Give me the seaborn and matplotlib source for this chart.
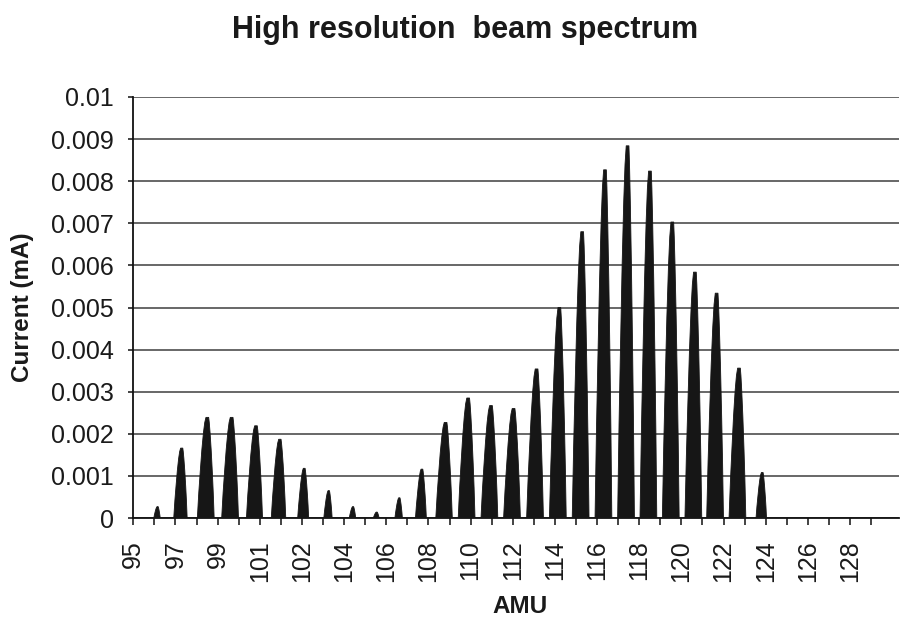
import numpy as np
import pandas as pd
import matplotlib
matplotlib.use("Agg")
import matplotlib.pyplot as plt
import seaborn as sns

# Peak centres (AMU, on the calibrated axis) and peak beam currents (mA)
peak_amu = [96.12, 97.23, 98.41, 99.53, 100.65, 101.75, 102.87, 104.00, 105.12,
            106.21, 107.25, 108.29, 109.38, 110.42, 111.47, 112.51, 113.57, 114.62,
            115.67, 116.72, 117.76, 118.79, 119.82, 120.86, 121.86, 122.89, 123.96]
peak_current = [0.00027, 0.00166, 0.00239, 0.00239, 0.00219, 0.00187, 0.00118, 0.00065,
                0.00027, 0.00014, 0.00048, 0.00116, 0.00227, 0.00285, 0.00267, 0.00260,
                0.00354, 0.00500, 0.00680, 0.00827, 0.00884, 0.00824, 0.00703, 0.00584,
                0.00534, 0.00356, 0.00108]

x_tick_labels = ["95", "97", "99", "101", "102", "104", "106", "108", "110", "112",
                 "114", "116", "118", "120", "122", "124", "126", "128"]
y_tick_values = [0, 0.001, 0.002, 0.003, 0.004, 0.005, 0.006, 0.007, 0.008, 0.009, 0.01]
y_tick_labels = ["0", "0.001", "0.002", "0.003", "0.004", "0.005", "0.006", "0.007",
                 "0.008", "0.009", "0.01"]

sns.set_theme(style="white")
plt.rcParams["font.family"] = ["Liberation Sans", "DejaVu Sans"]

INK = "#161616"
GRID = "#5c5c5c"

fig = plt.figure(figsize=(9, 6.18), dpi=100)
ax = fig.add_axes([133.3 / 900, 1 - 518 / 618, 765.7 / 900, 421 / 618])

# category spacing of the axis: 34 steps from 95 to 128
step = 33 / 34
px = step / 21.08  # AMU per screen pixel

# peak outline: relative heights and left/right half widths (pixels)
levels = np.array([0, 0.25, 0.45, 0.68, 0.85, 0.95, 1.0])
left_px = np.array([10.0, 8.6, 7.2, 5.5, 3.9, 2.6, 1.4])
right_px = np.array([6.8, 5.9, 5.0, 3.8, 2.7, 1.9, 1.3])

frames = []
for k, (c, h) in enumerate(zip(peak_amu, peak_current)):
    s = min(1.0, 0.3 + 0.3 * h / 0.001)
    xl = c - left_px * s * px
    xr = c + right_px * s * px
    xs = np.concatenate([xl, xr[::-1]])
    ys = np.concatenate([levels * h, (levels * h)[::-1]])
    frames.append(pd.DataFrame({"peak": k, "amu": xs, "current": ys}))
outline = pd.concat(frames, ignore_index=True)

for _, g in outline.groupby("peak"):
    ax.fill(g["amu"], g["current"], color=INK, lw=0, zorder=3)
sns.lineplot(data=outline, x="amu", y="current", units="peak", estimator=None,
             sort=False, color=INK, lw=0.6, ax=ax, zorder=4)

# axes
n_ticks = 37
tick_pos = [95 + i * step for i in range(n_ticks)]
ax.set_xticks(tick_pos[0:2 * len(x_tick_labels):2], x_tick_labels)
ax.set_xticks(tick_pos[1::2], minor=True)
ax.set_xlim(95, 95 + 765.7 * px)
ax.set_ylim(0, 0.01)
ax.set_yticks(y_tick_values, y_tick_labels)

ax.yaxis.grid(True, color=GRID, lw=1.3)
ax.xaxis.grid(False)
ax.set_axisbelow(True)
for side in ("top", "right"):
    ax.spines[side].set_visible(False)
for side in ("left", "bottom"):
    ax.spines[side].set_color("#111111")
    ax.spines[side].set_linewidth(1.3)

ax.tick_params(axis="y", which="both", left=True, direction="out", length=3.6, width=1.1,
               color="#111111", pad=10.4, labelsize=18, labelcolor="#1a1a1a")
ax.tick_params(axis="x", which="both", bottom=True, direction="out", length=5, width=1.1,
               color="#111111", pad=11, labelsize=18, labelcolor="#1a1a1a",
               labelrotation=90)
ax.set_xlabel("")
ax.set_ylabel("")

fig.text(465 / 900, 1 - 38 / 618, "High resolution  beam spectrum", ha="center",
         va="baseline", fontsize=22, fontweight="bold", color="#1a1a1a")
fig.text(520 / 900, 1 - 613 / 618, "AMU", ha="center", va="baseline",
         fontsize=17.5, fontweight="bold", color="#1a1a1a")
fig.text(23 / 900, 1 - 307 / 618, "Current (mA)", ha="center", va="center",
         rotation=90, fontsize=17.5, fontweight="bold", color="#1a1a1a")

fig.savefig("out.png", dpi=100)
